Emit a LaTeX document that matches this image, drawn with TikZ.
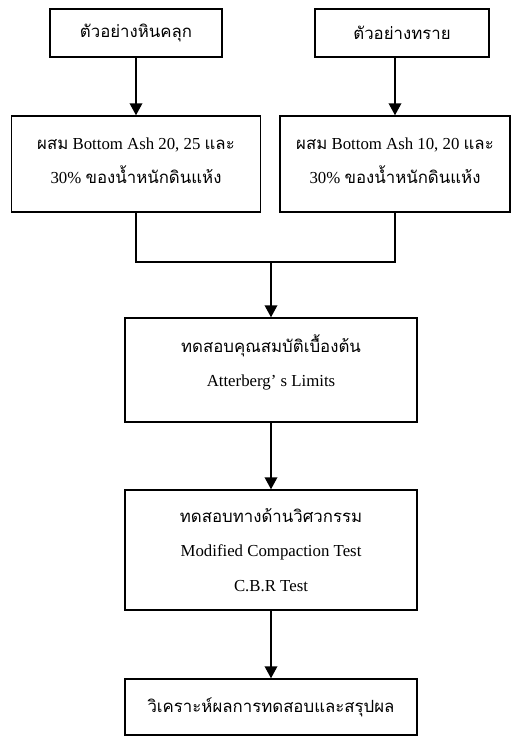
\documentclass[tikz,border=0pt]{standalone}
\usepackage{fontspec}
\setmainfont{Liberation Serif}
\newfontfamily\thaifont[Script=Thai]{Loma}
\newcommand{\thai}[1]{{\thaifont #1}}
\usetikzlibrary{arrows.meta}

\begin{document}
\begin{tikzpicture}[x=0.75pt, y=-0.75pt, line width=1.1pt,
    >={Triangle[width=9.5pt,length=9pt]},
    box/.style={draw, align=center, inner sep=0pt,
      font=\fontsize{12.6}{26}\selectfont}]

    \useasboundingbox (0 , 0) rectangle (512 , 736);

    \node [box, minimum width=129pt, minimum height=36pt] (b0) at (136 , 33) {\thai{ตัวอย่างหินคลุก}};
    \node [box, minimum width=130.5pt, minimum height=36pt] (b1) at (402 , 33) {\thai{ตัวอย่างทราย}};
    \node [box, minimum width=186.75pt, minimum height=72pt] (b2) at (136 , 164) {\thai{ผสม} Bottom Ash 20, 25 \thai{และ}\\30\% \thai{ของน้ำหนักดินแห้ง}\\[-21pt]\mbox{}};
    \node [box, minimum width=172.5pt, minimum height=72pt] (b3) at (395 , 164) {\thai{ผสม} Bottom Ash 10, 20 \thai{และ}\\30\% \thai{ของน้ำหนักดินแห้ง}\\[-21pt]\mbox{}};
    \node [box, minimum width=219pt, minimum height=78pt] (b4) at (271 , 370) {\thai{ทดสอบคุณสมบัติเบื้องต้น}\\Atterberg’ s Limits\\[-12pt]\mbox{}};
    \node [box, minimum width=219pt, minimum height=90pt] (b5) at (271 , 550) {\thai{ทดสอบทางด้านวิศวกรรม}\\Modified Compaction Test\\C.B.R Test};
    \node [box, minimum width=219pt, minimum height=42pt] (b6) at (271 , 707) {\thai{วิเคราะห์ผลการทดสอบและสรุปผล}};
    \coordinate (j) at (271 , 262);

    \draw (b2.south) |- (j) -| (b3.south);
 \path[->]
      (b0) edge (b2)
      (b3 |- b1.south) edge (b3)
      (j) edge (b4)
      (b4) edge (b5)
      (b5) edge (b6);
\end{tikzpicture}
\end{document}
